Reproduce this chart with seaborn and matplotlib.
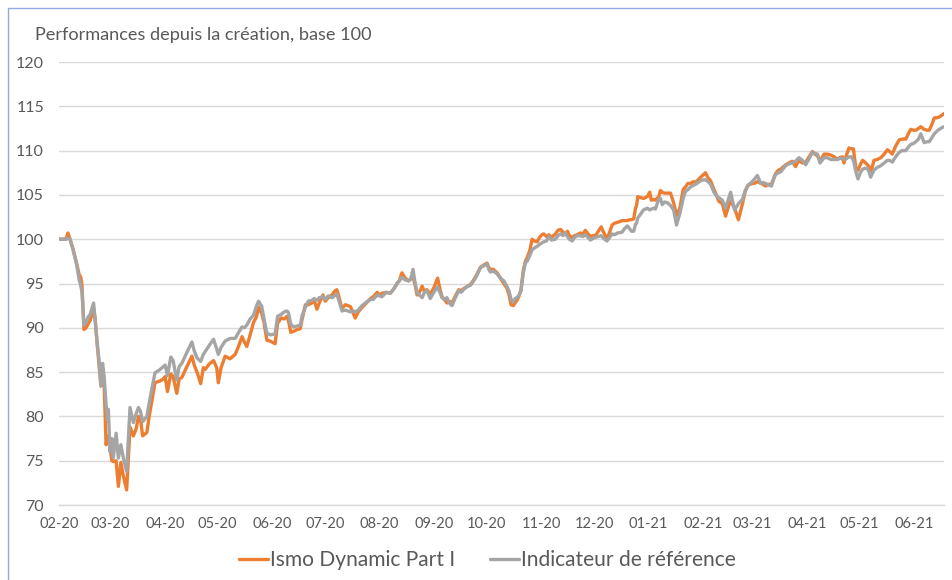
import pandas as pd
import numpy as np
import matplotlib
matplotlib.use('Agg')
import matplotlib.pyplot as plt
import seaborn as sns
from matplotlib.lines import Line2D

# --- Data (x = calendar days since launch, 19/02/2020) ---
lancement = pd.Timestamp('2020-02-19')

jours = [
    0.0, 2.2, 3.8, 4.9, 6.1, 7.8, 9.8, 11.3, 12.2, 12.9, 14.0, 15.2, 16.3, 17.5, 18.7, 19.5, 20.3, 21.4, 22.6, 23.6,
    24.6, 25.5, 26.6, 27.5, 27.9, 28.8, 29.9, 30.7, 32.3, 33.6, 35.0, 36.5, 38.3, 40.2, 42.1, 43.7, 45.0, 46.1, 47.4, 49.8,
    51.1, 52.5, 54.4, 57.3, 59.0, 60.2, 61.5, 63.4, 64.7, 66.8, 68.1, 69.7, 72.5, 75.4, 76.7, 78.3, 80.4, 81.9, 82.9, 85.2,
    87.7, 89.5, 90.4, 92.0, 94.3, 97.1, 100.0, 101.7, 103.9, 105.2, 106.6, 108.5, 110.4, 112.0, 113.3, 115.1, 116.4, 118.0, 119.9, 122.7,
    124.1, 126.1, 127.9, 129.5, 130.3, 131.6, 133.2, 135.2, 137.0, 138.1, 139.9, 141.5, 143.6, 144.9, 146.5, 147.8, 149.9, 151.2, 152.9, 155.1,
    156.4, 157.8, 159.1, 160.7, 162.6, 165.5, 166.8, 168.2, 170.0, 172.1, 174.6, 176.9, 178.5, 180.7, 182.0, 183.4, 185.9, 188.2, 190.2, 192.0,
    193.3, 194.8, 196.7, 198.6, 199.9, 201.1, 202.1, 203.4, 204.7, 206.3, 207.6, 209.0, 210.9, 212.9, 215.1, 216.4, 217.6, 218.9, 220.4, 221.7,
    223.3, 225.2, 227.1, 228.5, 229.8, 231.4, 233.8, 235.6, 237.4, 239.4, 241.4, 243.2, 244.2, 245.0, 246.8, 248.9, 250.8, 252.7, 254.4, 255.6,
    256.9, 258.1, 259.1, 260.2, 261.4, 262.5, 263.8, 265.0, 266.2, 267.6, 268.8, 270.1, 271.7, 273.0, 274.4, 275.4, 277.0, 278.3, 279.8, 282.1,
    283.5, 285.0, 286.4, 287.7, 288.9, 290.0, 291.6, 292.9, 294.4, 296.2, 297.7, 299.1, 300.6, 302.0, 303.5, 304.8, 306.5, 308.1, 309.4, 311.4,
    312.9, 314.3, 315.6, 317.4, 320.0, 321.4, 322.9, 324.2, 325.3, 326.6, 327.6, 328.2, 328.9, 330.4, 332.1, 334.3, 335.7, 336.6, 337.9, 338.9,
    340.8, 341.8, 342.8, 344.1, 345.9, 347.5, 349.3, 350.9, 352.8, 354.7, 356.0, 357.4, 358.9, 360.6, 361.8, 363.2, 364.7, 366.3, 367.4, 368.9,
    370.3, 372.2, 373.6, 374.9, 377.0, 378.8, 380.6, 381.7, 383.9, 386.1, 388.4, 390.0, 391.6, 394.0, 395.3, 396.9, 398.8, 400.1, 401.5, 403.3,
    404.9, 406.2, 407.2, 408.9, 410.1, 411.8, 413.0, 414.7, 416.7, 418.6, 420.5, 422.5, 424.4, 426.3, 428.2, 429.5, 431.1, 432.5, 434.8, 436.6,
    438.6, 440.6, 442.3, 443.6, 445.2, 446.1, 447.7, 449.0, 450.3, 451.5, 452.8, 454.1, 455.4, 456.7, 458.0, 459.4, 460.4, 461.3, 463.2, 465.0,
    467.1, 469.0, 470.8, 472.1, 473.6, 475.5, 477.5, 479.2, 481.3, 482.7, 484.1, 485.6, 487.0, 488.5, 489.8, 491.7, 493.3, 494.6, 496.2, 497.5,
    499.0, 500.3, 501.9, 503.1,
]

ismo = [
    100.0, 100.0, 100.0, 100.7, 100.0, 98.9, 97.3, 96.0, 95.7, 94.8, 89.8, 90.0, 90.4, 90.8, 91.6, 92.1, 91.2, 88.5, 85.8, 83.7,
    83.5, 83.6, 76.8, 77.6, 77.8, 76.5, 75.0, 74.9, 75.0, 72.1, 74.8, 73.2, 71.7, 78.8, 77.8, 78.6, 80.0, 79.8, 77.8, 78.2,
    80.0, 81.6, 83.8, 84.0, 84.2, 84.5, 82.8, 84.8, 84.5, 82.6, 84.2, 84.4, 85.6, 86.8, 85.8, 85.0, 83.7, 85.5, 85.3, 85.9,
    86.3, 85.5, 83.8, 85.5, 86.8, 86.5, 87.0, 87.8, 89.0, 88.4, 87.9, 89.2, 90.6, 91.2, 92.3, 91.6, 90.6, 88.6, 88.5, 88.2,
    90.5, 91.1, 91.0, 91.3, 90.8, 89.5, 89.6, 89.8, 89.9, 91.0, 92.6, 92.6, 92.8, 93.1, 92.1, 92.8, 93.7, 93.0, 93.4, 93.7,
    94.1, 94.3, 93.4, 92.2, 92.6, 92.4, 91.8, 91.1, 91.8, 92.3, 92.8, 93.3, 93.5, 94.0, 93.7, 93.9, 94.0, 93.9, 94.4, 95.0,
    95.3, 96.2, 95.6, 95.3, 95.5, 95.8, 95.0, 93.7, 94.0, 94.7, 94.1, 94.3, 93.8, 94.5, 95.6, 94.4, 93.5, 93.2, 92.8, 93.0,
    92.8, 93.6, 94.3, 94.2, 94.4, 94.6, 94.9, 95.4, 96.0, 96.8, 97.1, 97.3, 96.8, 96.6, 96.6, 96.2, 95.6, 95.0, 94.5, 93.8,
    92.6, 92.5, 92.8, 93.1, 93.6, 94.3, 96.5, 97.5, 98.0, 98.8, 100.0, 99.8, 99.7, 100.2, 100.5, 100.6, 100.3, 100.5, 100.2, 100.6,
    101.0, 101.1, 100.8, 100.6, 100.9, 100.4, 100.2, 100.4, 100.5, 100.7, 100.6, 101.0, 100.6, 100.3, 100.4, 100.4, 100.9, 101.4, 100.8, 100.0,
    100.8, 101.6, 101.8, 101.9, 102.1, 102.1, 102.1, 102.2, 102.2, 102.3, 103.5, 103.8, 104.8, 104.7, 104.6, 104.8, 105.3, 104.4, 104.5, 104.4,
    104.8, 105.5, 105.3, 105.2, 105.2, 105.2, 104.1, 102.7, 103.5, 105.6, 105.9, 106.3, 106.3, 106.5, 106.4, 106.7, 107.0, 107.3, 107.5, 106.9,
    106.6, 105.6, 105.0, 104.3, 104.0, 102.6, 103.8, 104.3, 103.5, 102.2, 104.0, 105.4, 106.1, 106.3, 106.3, 106.5, 106.3, 106.2, 106.0, 106.2,
    106.2, 106.8, 107.4, 107.8, 107.9, 108.2, 108.4, 108.6, 108.8, 108.2, 108.9, 108.6, 108.7, 109.3, 109.9, 109.6, 109.4, 108.8, 109.6, 109.6,
    109.5, 109.3, 109.0, 109.2, 109.3, 108.6, 109.6, 110.3, 110.2, 110.2, 108.1, 107.8, 108.4, 108.9, 108.7, 108.4, 108.2, 107.5, 108.9, 109.0,
    109.2, 109.6, 110.1, 109.9, 109.6, 110.5, 111.2, 111.3, 111.3, 111.9, 112.4, 112.3, 112.3, 112.5, 112.7, 112.4, 112.3, 112.3, 113.0, 113.7,
    113.7, 113.8, 114.0, 114.2,
]

indicateur = [
    100.0, 100.0, 100.0, 100.1, 100.0, 98.8, 97.2, 95.4, 94.8, 94.0, 90.3, 90.6, 91.2, 91.5, 92.3, 92.8, 91.0, 88.6, 86.3, 83.4,
    86.0, 84.5, 81.3, 79.5, 80.8, 76.0, 77.5, 75.3, 78.1, 75.3, 76.8, 75.2, 73.8, 81.0, 79.3, 80.3, 81.0, 80.6, 79.4, 80.0,
    81.5, 83.0, 84.9, 85.3, 85.6, 85.8, 84.6, 86.7, 86.3, 84.1, 85.6, 86.0, 87.2, 88.4, 87.4, 86.6, 86.2, 87.0, 87.3, 88.0,
    88.7, 87.6, 87.0, 87.8, 88.5, 88.8, 88.8, 89.4, 90.1, 90.0, 90.3, 91.0, 91.4, 92.4, 93.0, 92.4, 91.0, 89.4, 89.2, 89.3,
    91.3, 91.5, 91.8, 91.9, 91.7, 90.4, 90.1, 90.2, 90.3, 91.4, 92.3, 93.0, 93.1, 93.3, 93.1, 93.4, 93.5, 93.2, 93.6, 93.4,
    93.6, 93.8, 93.0, 91.9, 92.0, 91.8, 91.9, 91.8, 92.0, 92.5, 92.9, 93.2, 93.2, 93.7, 93.6, 93.5, 94.0, 93.9, 94.4, 95.0,
    95.3, 95.7, 95.4, 95.3, 95.6, 96.6, 95.3, 94.0, 93.7, 93.4, 94.0, 94.2, 93.3, 94.0, 94.6, 94.0, 93.4, 93.2, 93.4, 92.8,
    92.5, 93.4, 94.2, 94.0, 94.3, 94.6, 94.8, 95.3, 95.9, 96.8, 97.0, 97.2, 96.6, 96.3, 96.4, 96.1, 95.6, 95.3, 94.7, 94.2,
    93.2, 92.9, 93.3, 93.4, 93.7, 94.2, 96.2, 97.3, 97.6, 98.2, 98.8, 99.0, 99.2, 99.4, 99.6, 99.7, 99.8, 100.3, 99.9, 100.0,
    100.4, 100.6, 100.4, 100.7, 100.3, 100.0, 99.8, 100.2, 100.4, 100.4, 100.3, 100.5, 100.2, 99.9, 100.1, 100.2, 100.3, 100.4, 100.1, 99.8,
    100.2, 100.6, 100.5, 100.7, 100.8, 101.2, 101.5, 101.2, 100.9, 100.9, 101.7, 101.8, 102.4, 102.8, 103.3, 103.5, 103.3, 103.4, 103.5, 103.4,
    104.5, 104.6, 103.9, 104.2, 104.1, 103.8, 103.3, 101.6, 102.9, 104.6, 105.4, 105.6, 105.9, 106.1, 106.2, 106.4, 106.6, 106.7, 106.7, 106.5,
    106.2, 105.3, 104.9, 104.7, 104.4, 103.5, 104.6, 105.3, 103.3, 104.0, 104.5, 105.5, 106.1, 106.5, 106.8, 107.2, 106.3, 106.4, 106.3, 106.1,
    106.0, 106.9, 107.3, 107.5, 107.6, 108.0, 108.3, 108.5, 108.6, 108.8, 109.2, 108.9, 108.4, 109.1, 109.8, 109.7, 109.6, 108.6, 109.2, 109.2,
    109.0, 109.0, 109.0, 109.1, 109.1, 109.0, 109.1, 109.3, 109.3, 108.9, 107.7, 106.8, 107.5, 107.9, 108.0, 108.0, 107.6, 107.0, 107.8, 108.1,
    108.3, 108.6, 108.9, 108.9, 108.7, 109.3, 109.8, 110.0, 110.0, 110.4, 110.7, 110.8, 111.0, 111.3, 111.9, 110.9, 111.0, 111.0, 111.5, 111.9,
    112.2, 112.4, 112.6, 112.7,
]

mois = ['02-20', '03-20', '04-20', '05-20', '06-20', '07-20', '08-20', '09-20', '10-20',
        '11-20', '12-20', '01-21', '02-21', '03-21', '04-21', '05-21', '06-21']
fin_axe = pd.Timestamp('2021-07-06')
series_names = ['Ismo Dynamic Part I', 'Indicateur de référence']
colors = ['#ED7D31', '#A5A5A5']

df = pd.DataFrame({'jour': jours, series_names[0]: ismo, series_names[1]: indicateur})
long_df = df.melt(id_vars='jour', var_name='serie', value_name='perf')

# monthly ticks counted from the launch date (Excel date axis)
tick_dates = pd.date_range(lancement, periods=len(mois), freq=pd.DateOffset(months=1))
tick_pos = [(d - lancement).days for d in tick_dates]

sns.set_style('white')
plt.rcParams['font.family'] = ['Lato', 'DejaVu Sans']
txt = '#595959'
grid = '#D9D9D9'

fig = plt.figure(figsize=(9.52, 5.80), dpi=100)
ax = fig.add_axes([59.3 / 952, 1 - 505 / 580, (944 - 59.3) / 952, (505 - 62) / 580])

sns.lineplot(data=long_df, x='jour', y='perf', hue='serie', hue_order=series_names,
             palette=colors, linewidth=2.4, estimator=None, sort=False, ax=ax,
             solid_joinstyle='round', solid_capstyle='round')
ax.get_legend().remove()

ax.set_xlim(0, (fin_axe - lancement).days)
ax.set_ylim(70, 120)
ax.set_yticks(np.arange(70, 121, 5))
ax.set_xticks(tick_pos)
ax.set_xticklabels(mois)
ax.set_xlabel('')
ax.set_ylabel('')

ax.grid(axis='y', color=grid, linewidth=1)
ax.set_axisbelow(True)
for s in ['top', 'right', 'left']:
    ax.spines[s].set_visible(False)
ax.spines['bottom'].set_color(grid)
ax.spines['bottom'].set_linewidth(1)
ax.tick_params(axis='y', length=0, pad=11, labelsize=11.5, labelcolor=txt)
ax.tick_params(axis='x', length=4, width=1, color=grid, direction='out', pad=5,
               labelsize=10.5, labelcolor=txt)

fig.text(35 / 952, 1 - 35 / 580, 'Performances depuis la création, base 100',
         fontsize=13.1, color=txt, ha='left', va='center')

handles = [Line2D([0], [0], color=c, linewidth=2.4) for c in colors]
fig.legend(handles, series_names, loc='center', bbox_to_anchor=(0.512, 1 - 560 / 580),
           ncol=2, frameon=False, fontsize=15.1, labelcolor=txt, handlelength=1.35,
           handletextpad=0.1, columnspacing=1.7)

# chart frame (left and top edges visible in the crop)
fig.add_artist(Line2D([8 / 952, 8 / 952], [0, 1 - 8 / 580], color='#8FAADC', linewidth=1))
fig.add_artist(Line2D([8 / 952, 1], [1 - 8 / 580, 1 - 8 / 580], color='#8FAADC', linewidth=1))

fig.savefig('out.png', dpi=100)
